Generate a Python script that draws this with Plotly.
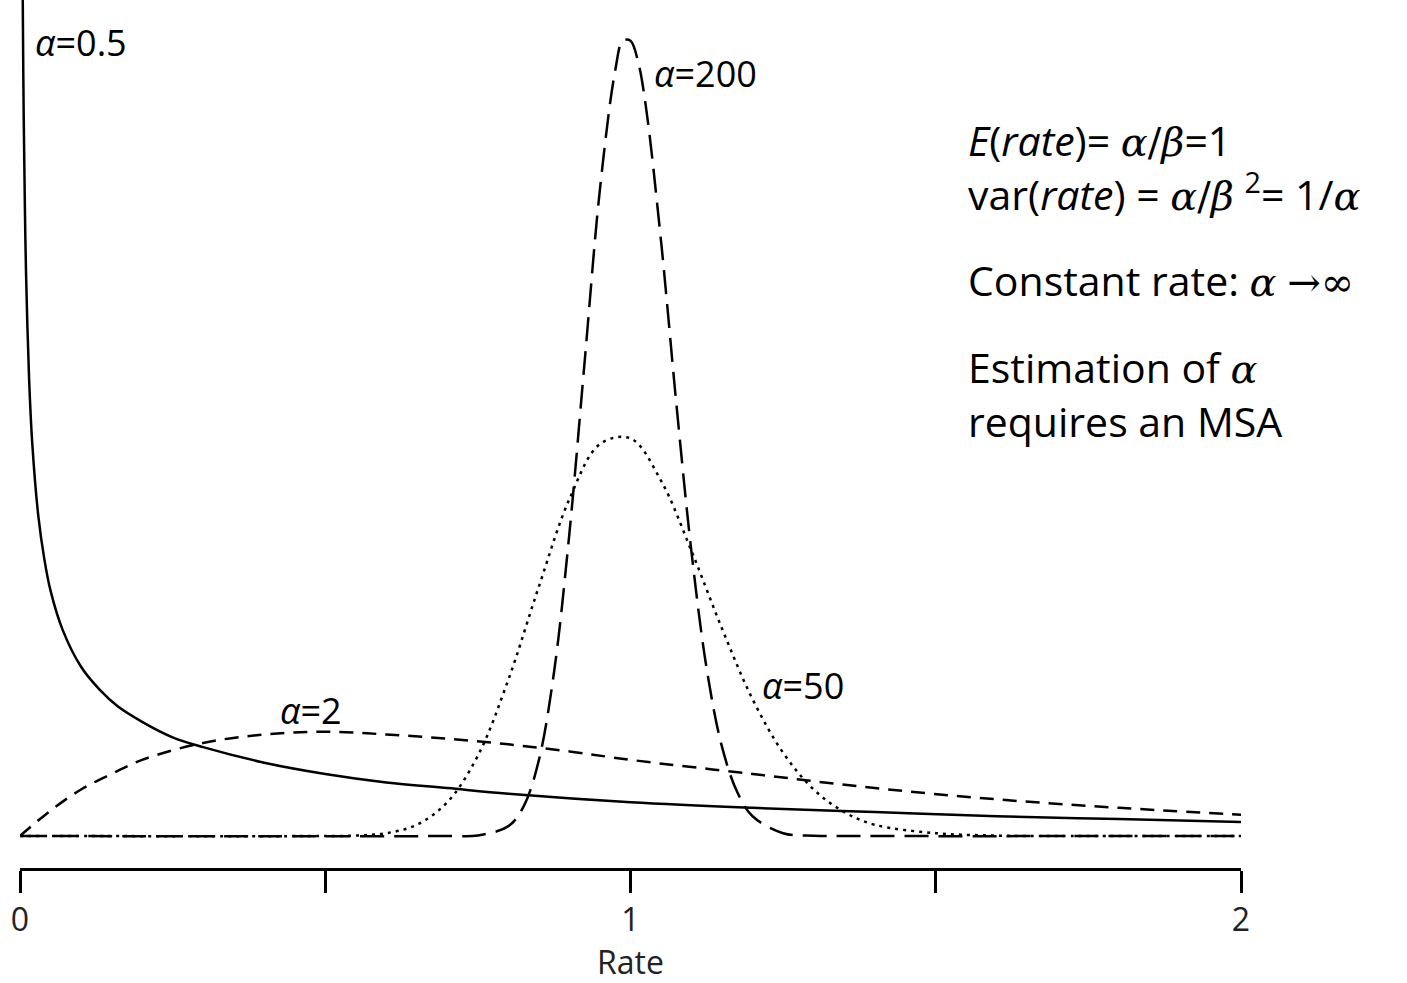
import plotly.graph_objects as go

# ---- data (gamma densities, mean 1) ----
a05_x = [0.004, 0.0045, 0.006, 0.008, 0.01, 0.015, 0.02, 0.03, 0.04, 0.05, 0.07, 0.1, 0.13, 0.16,
         0.2, 0.25, 0.3, 0.4, 0.5, 0.6, 0.7, 0.8, 1.0, 1.2, 1.4, 1.6, 1.8, 2.0]
a05_y = [6.31, 5.93, 5.13, 4.46, 3.97, 3.23, 2.79, 2.27, 1.96, 1.74, 1.46, 1.20, 1.04, 0.92,
         0.81, 0.70, 0.63, 0.52, 0.44, 0.38, 0.34, 0.30, 0.24, 0.20, 0.17, 0.14, 0.12, 0.10]

a2_x = [0, 0.05, 0.1, 0.15, 0.2, 0.3, 0.4, 0.5, 0.6, 0.7, 0.8, 0.9, 1.0, 1.2, 1.4, 1.6, 1.8, 2.0]
a2_y = [0, 0.18, 0.33, 0.44, 0.54, 0.66, 0.72, 0.74, 0.72, 0.69, 0.65, 0.60, 0.54, 0.44, 0.34, 0.26, 0.20, 0.15]

a50_x = [0, 0.5, 0.55, 0.6, 0.65, 0.7, 0.75, 0.8, 0.85, 0.9, 0.95, 1.0, 1.05, 1.1, 1.15, 1.2,
         1.25, 1.3, 1.35, 1.4, 1.5, 1.6, 1.7, 2.0]
a50_y = [0, 0, 0.003, 0.02, 0.08, 0.24, 0.57, 1.11, 1.77, 2.39, 2.78, 2.82, 2.52, 2.02, 1.47, 0.97,
         0.59, 0.33, 0.17, 0.08, 0.02, 0.003, 0, 0]

a200_x = [0, 0.7, 0.75, 0.8, 0.825, 0.85, 0.875, 0.9, 0.925, 0.95, 0.975, 0.9875, 1.0, 1.0125, 1.025,
          1.05, 1.075, 1.1, 1.125, 1.15, 1.175, 1.2, 1.25, 1.3, 1.35, 2.0]
a200_y = [0, 0, 0.004, 0.07, 0.21, 0.54, 1.17, 2.15, 3.37, 4.59, 5.43, 5.64, 5.64, 5.49, 5.18,
          4.22, 3.07, 2.01, 1.18, 0.63, 0.31, 0.14, 0.02, 0.002, 0, 0]

x_tickvals = [0, 1, 2]
x_ticktext = ["0", "1", "2"]
x_title = "Rate"

curve_labels = ["<i>α</i>=0.5", "<i>α</i>=2", "<i>α</i>=50", "<i>α</i>=200"]
label_pos = [(0.021, 5.63), (0.423, 0.89), (1.212, 1.07), (1.035, 5.41)]

SERIF = "font-family:DejaVu Serif;font-size:40px"
A = f"<span style=\"{SERIF}\"><i>α</i></span>"
B = f"<span style=\"{SERIF}\"><i>β</i></span>"
S = f"<span style=\"{SERIF}\">/</span>"
text_lines = [
    f"<i>E</i>(<i>rate</i>)= {A}{S}{B}=1",
    f"var(<i>rate</i>) = {A}{S}{B} <sup>2</sup>= 1/{A}",
    f"Constant rate: {A} <span style=\"{SERIF}\">→∞</span>",
    f"Estimation of {A}",
    "requires an MSA",
]
text_y_px = [140, 192, 280, 367, 421]

# ---- figure ----
W, H = 1407, 983
ML, MR, MT, MB = 20, 166, 0, 115
PX_PER_UNIT_Y = 141.0
ZERO_PX = 836
PLOT_H = H - MT - MB

fig = go.Figure()
common = dict(mode="lines", line_shape="spline", hoverinfo="skip", showlegend=False)
fig.add_trace(go.Scatter(x=a05_x, y=a05_y, line=dict(color="black", width=2.5), **common))
fig.add_trace(go.Scatter(x=a2_x, y=a2_y, line=dict(color="black", width=2.5, dash="14px,9px"), **common))
fig.add_trace(go.Scatter(x=a50_x, y=a50_y, line=dict(color="black", width=2.5, dash="3px,5px"), **common))
fig.add_trace(go.Scatter(x=a200_x, y=a200_y, line=dict(color="black", width=2.5, dash="24px,10px"), **common))

ylo = -(H - MB - ZERO_PX) / PX_PER_UNIT_Y
yhi = ZERO_PX / PX_PER_UNIT_Y

annotations = []
for lab, (lx, ly) in zip(curve_labels, label_pos):
    annotations.append(dict(x=lx, y=ly, xref="x", yref="y", text=lab, showarrow=False,
                            xanchor="left", yanchor="middle",
                            font=dict(family="Open Sans", size=36, color="black")))
for t, py in zip(text_lines, text_y_px):
    annotations.append(dict(x=(966 - ML) / (W - ML - MR) * 2, y=(ZERO_PX - py) / PX_PER_UNIT_Y,
                            xref="x", yref="y", text=t, showarrow=False,
                            xanchor="left", yanchor="middle",
                            font=dict(family="Open Sans", size=41, color="black")))
# axis title placed below tick labels
annotations.append(dict(x=1, y=(PLOT_H - 961) / PLOT_H, xref="x", yref="paper", text=x_title,
                        showarrow=False, xanchor="center", yanchor="middle",
                        font=dict(family="Open Sans", size=32, color="#222")))

fig.update_layout(
    width=W, height=H,
    margin=dict(l=ML, r=MR, t=MT, b=MB, pad=0),
    paper_bgcolor="white", plot_bgcolor="white",
    annotations=annotations,
    xaxis=dict(range=[0, 2], showgrid=False, zeroline=False,
               showline=True, linecolor="black", linewidth=2.5,
               ticks="outside", ticklen=22, tickwidth=2.5, tickcolor="black",
               tickvals=x_tickvals, ticktext=x_ticktext,
               ticklabelstandoff=0,
               tickfont=dict(family="Open Sans", size=32, color="#222"),
               minor=dict(ticks="outside", ticklen=22, tickwidth=2.5, tickcolor="black", dtick=0.5)),
    yaxis=dict(range=[ylo, yhi], visible=False, showgrid=False, zeroline=False),
)

fig.write_html("out.html")
